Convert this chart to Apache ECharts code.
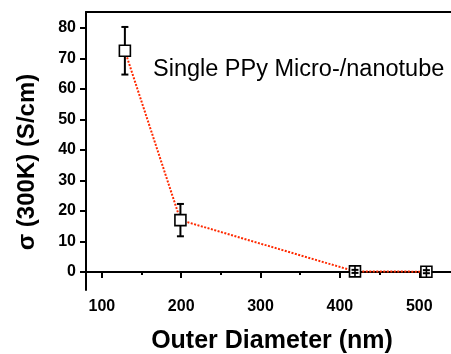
<!DOCTYPE html>
<html>
<head>
<meta charset="utf-8">
<script src="https://cdn.jsdelivr.net/npm/echarts@6/dist/echarts.min.js"></script>
<style>html,body{margin:0;padding:0;background:#fff}#c{width:451px;height:354px}</style>
</head>
<body>
<div id="c"></div>
<script>
// Data
var diameters = [129, 199, 419, 509];       // Outer diameter (nm)
var sigma = [72.5, 17.0, 0.2, 0.1];         // sigma (300K) (S/cm)
var sigmaErr = [7.8, 5.3, 0.5, 0.5];        // error bars
var xMajorTicks = [100, 200, 300, 400, 500];
var xMinorTicks = [150, 250, 350, 450];
var yMajorTicks = [0, 10, 20, 30, 40, 50, 60, 70, 80];
var yMinorTicks = [-5, 5, 15, 25, 35, 45, 55, 65, 75];
var annotation = 'Single PPy Micro-/nanotube';
var xTitle = 'Outer Diameter (nm)';
var yTitle = '\u03C3 (300K) (S/cm)';

var FONT = '"Liberation Sans", Arial, sans-serif';
var chart = echarts.init(document.getElementById('c'), null, {renderer: 'canvas'});

var lineData = diameters.map(function (d, i) { return [d, sigma[i]]; });
var errData = diameters.map(function (d, i) { return [d, sigma[i], sigmaErr[i]]; });

function axisBase(extra) {
  var o = {
    type: 'value', min: 80, max: 540,
    axisLine: {show: true, lineStyle: {color: '#000', width: 2}},
    splitLine: {show: false}
  };
  for (var k in extra) o[k] = extra[k];
  return o;
}

var option = {
  animation: false,
  backgroundColor: '#fff',
  grid: {left: 86, top: 12, right: -2, bottom: 64},
  xAxis: [
    axisBase({
      position: 'bottom',
      axisTick: {show: true, inside: false, length: 6, lineStyle: {width: 2, color: '#000'}, customValues: xMajorTicks},
      axisLabel: {show: true, customValues: xMajorTicks, color: '#000', fontFamily: FONT, fontWeight: 'bold', fontSize: 16, margin: 9}
    }),
    axisBase({
      position: 'bottom',
      axisLine: {show: false},
      axisTick: {show: true, inside: false, length: 3, lineStyle: {width: 2, color: '#000'}, customValues: xMinorTicks},
      axisLabel: {show: false}
    }),
    axisBase({
      position: 'top',
      axisTick: {show: false},
      axisLabel: {show: false}
    })
  ],
  yAxis: [
    {
      type: 'value', min: -5.9, max: 85.2,
      axisLine: {show: true, lineStyle: {color: '#000', width: 2}},
      splitLine: {show: false},
      axisTick: {show: true, inside: false, length: 6, lineStyle: {width: 2, color: '#000'}, customValues: yMajorTicks},
      axisLabel: {show: true, customValues: yMajorTicks, color: '#000', fontFamily: FONT, fontWeight: 'bold', fontSize: 16, margin: 10}
    },
    {
      type: 'value', min: -5.9, max: 85.2,
      axisLine: {show: false},
      splitLine: {show: false},
      axisTick: {show: true, inside: false, length: 3, lineStyle: {width: 2, color: '#000'}, customValues: yMinorTicks},
      axisLabel: {show: false}
    }
  ],
  graphic: [
    {
      type: 'text', left: 153, top: 58,
      style: {text: annotation, font: 'normal 23.5px ' + FONT, fill: '#000'}
    },
    {
      type: 'text', x: 272, y: 341,
      style: {text: xTitle, font: 'bold 25px ' + FONT, fill: '#000', align: 'center', verticalAlign: 'middle'}
    },
    {
      type: 'text', x: 27, y: 162, rotation: Math.PI / 2,
      style: {text: yTitle, font: 'bold 24px ' + FONT, fill: '#000', align: 'center', verticalAlign: 'middle'}
    }
  ],
  series: [
    {
      type: 'line', data: lineData, xAxisIndex: 0, yAxisIndex: 0,
      symbol: 'none', z: 2,
      lineStyle: {color: '#ff2a00', width: 2, type: [2, 1.5]}
    },
    {
      type: 'custom', data: errData, xAxisIndex: 0, yAxisIndex: 0, z: 3,
      renderItem: function (params, api) {
        var d = api.value(0), v = api.value(1), e = api.value(2);
        var p = api.coord([d, v]);
        var hi = api.coord([d, v + e]);
        var lo = api.coord([d, v - e]);
        var half = 5.5, cap = 3.5;
        var st = {stroke: '#000', lineWidth: 2};
        var ch = [{
          type: 'rect',
          shape: {x: p[0] - half, y: p[1] - half, width: 2 * half, height: 2 * half},
          style: {fill: '#fff', stroke: '#000', lineWidth: 1.6}
        }];
        if (hi[1] < p[1] - half) {
          ch.push({type: 'line', shape: {x1: p[0], y1: hi[1], x2: p[0], y2: p[1] - half}, style: st});
          ch.push({type: 'line', shape: {x1: p[0], y1: p[1] + half, x2: p[0], y2: lo[1]}, style: st});
        } else {
          ch.push({type: 'line', shape: {x1: p[0], y1: p[1] - half, x2: p[0], y2: p[1] + half}, style: {stroke: '#000', lineWidth: 1.6}});
        }
        ch.push({type: 'line', shape: {x1: p[0] - cap, y1: hi[1], x2: p[0] + cap, y2: hi[1]}, style: st});
        ch.push({type: 'line', shape: {x1: p[0] - cap, y1: lo[1], x2: p[0] + cap, y2: lo[1]}, style: st});
        return {type: 'group', children: ch};
      }
    }
  ]
};
chart.setOption(option);
</script>
</body>
</html>
